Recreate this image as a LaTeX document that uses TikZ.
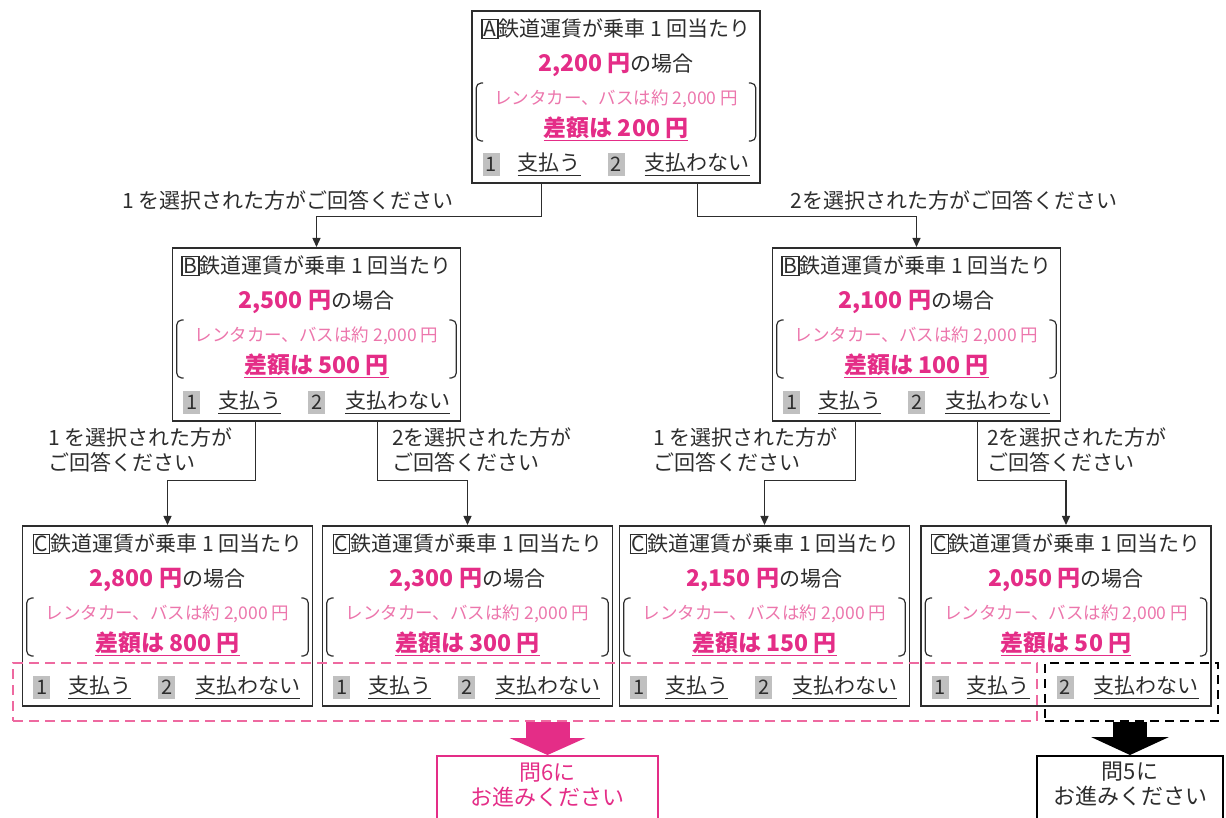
\documentclass[tikz,border=0pt]{standalone}
\usepackage{fontspec}
\setmainfont{Noto Sans CJK JP}
\usetikzlibrary{arrows.meta}

\definecolor{fpink}{RGB}{228,45,135}
\definecolor{notepink}{RGB}{236,118,172}
\definecolor{dashpink}{RGB}{238,105,160}
\definecolor{txtgray}{RGB}{45,45,45}
\definecolor{numgray}{RGB}{192,192,192}

\setlength{\fboxsep}{1pt}
\setlength{\fboxrule}{1.2pt}

\newcommand{\uln}[1]{\setbox0=\hbox{#1}\leavevmode\rlap{\rule[-5pt]{\wd0}{1.3pt}}\box0}

\tikzset{
    fare/.style={draw=txtgray, line width=1.6pt, inner sep=0pt},
    headtxt/.style={text=txtgray, font=\fontsize{21}{24}\selectfont, inner sep=0pt},
    pricetxt/.style={text=txtgray, font=\fontsize{21}{25}\selectfont, inner sep=0pt},
    notetxt/.style={text=notepink, font=\fontsize{17.5}{20}\selectfont, inner sep=0pt},
    difftxt/.style={text=fpink, font=\fontsize{23}{26}\selectfont\bfseries, inner sep=0pt},
    opttxt/.style={text=txtgray, font=\fontsize{21}{25}\selectfont, inner sep=0pt},
    numbox/.style={fill=numgray, text=txtgray, font=\fontsize{20}{24}\selectfont, minimum width=17pt, minimum height=23pt, inner sep=0pt},
    bracket/.style={draw=txtgray, line width=1.2pt, rounded corners=5pt},
    link/.style={draw=txtgray, line width=1.4pt, -{Triangle[length=9pt, width=8pt]}},
    asklabel/.style={text=txtgray, font=\fontsize{21}{25}\selectfont, inner sep=0pt, align=left},
    pinksel/.style={draw=dashpink, line width=2pt, dash pattern=on 10pt off 6pt, inner sep=0pt},
    blacksel/.style={draw=black, line width=2.4pt, dash pattern=on 9pt off 6pt, inner sep=0pt},
    gopink/.style={draw=fpink, line width=1.8pt, inner sep=0pt},
    goblack/.style={draw=black, line width=1.8pt, inner sep=0pt},
    gotxt/.style={text=txtgray, font=\fontsize{22}{25}\selectfont, inner sep=0pt, align=center}
}

\newcommand{\farebox}[8]{%
    \node[fare, minimum width=#3, minimum height=#4, anchor=north] (#1) at (#2) {};
    \node[headtxt] (#1-head) at ([yshift=-19pt]#1.north) {\fbox{#5}鉄道運賃が乗車 1 回当たり};
    \node[pricetxt] (#1-price) at ([yshift=-55pt]#1.north) {{\color{fpink}\bfseries\fontsize{23}{26}\selectfont #6 円}の場合};
    \node[notetxt] (#1-note) at ([yshift=-89pt]#1.north) {レンタカー、バスは約 2,000 円};
    \node[difftxt] (#1-diff) at ([yshift=-119pt]#1.north) {\uln{差額は #7 円}};
    \draw[bracket] ([shift={(12,-73)}]#1.north west) -- ([shift={(5,-73)}]#1.north west)
        -- ([shift={(5,-131)}]#1.north west) -- ([shift={(12,-131)}]#1.north west);
    \draw[bracket] ([shift={(-12,-73)}]#1.north east) -- ([shift={(-5,-73)}]#1.north east)
        -- ([shift={(-5,-131)}]#1.north east) -- ([shift={(-12,-131)}]#1.north east);
    \node[numbox] (#1-n1) at ([shift={(20,19)}]#1.south west) {1};
    \node[opttxt] (#1-pay) at ([shift={(78,19)}]#1.south west) {\uln{支払う}};
    \node[numbox] (#1-n2) at ([shift={(145,19)}]#1.south west) {2};
    \node[opttxt] (#1-nopay) at ([shift={(#8,19)}]#1.south west) {\uln{支払わない}};
}

\begin{document}
\begin{tikzpicture}[x=1pt, y=1pt]
    \clip (0,0) rectangle (1226,817);

    \farebox{A}{616,807}{288pt}{172pt}{A}{2,200}{200}{226}
    \farebox{B1}{316.5,570}{288pt}{173pt}{B}{2,500}{500}{226}
    \farebox{B2}{916.5,570}{288pt}{173pt}{B}{2,100}{100}{226}
    \farebox{C1}{167.5,292}{290pt}{180pt}{C}{2,800}{800}{226}
    \farebox{C2}{467.5,292}{290pt}{180pt}{C}{2,300}{300}{226}
    \farebox{C3}{764.5,292}{290pt}{180pt}{C}{2,150}{150}{226}
    \farebox{C4}{1066,292}{290pt}{180pt}{C}{2,050}{50}{226}

    \draw[link] ([xshift=-8pt]A.south -| A-pay) -- ++(0,-33) -| (B1.north);
    \draw[link] (A.south -| A-nopay) -- ++(0,-33) -| (B2.north);
    \draw[link] ([xshift=6pt]B1.south -| B1-pay) -- ++(0,-59) -| (C1.north);
    \draw[link] ([xshift=-20pt]B1.south -| B1-nopay) -- ++(0,-59) -| (C2.north);
    \draw[link] ([xshift=6pt]B2.south -| B2-pay) -- ++(0,-59) -| (C3.north);
    \draw[link] ([xshift=-20pt]B2.south -| B2-nopay) -- ++(0,-59) -| (C4.north);

    \node[asklabel] (ask1) at (288,617) {1 を選択された方がご回答ください};
    \node[asklabel] (ask2) at (954,617) {2を選択された方がご回答ください};
    \node[asklabel, anchor=west] (ask11) at (48,367.5) {1 を選択された方が\\ご回答ください};
    \node[asklabel, anchor=west] (ask12) at (392,367.5) {2を選択された方が\\ご回答ください};
    \node[asklabel, anchor=west] (ask21) at (653,367.5) {1 を選択された方が\\ご回答ください};
    \node[asklabel, anchor=west] (ask22) at (987,367.5) {2を選択された方が\\ご回答ください};

    \node[pinksel, minimum width=1024pt, minimum height=58pt] (sel6) at (525,125) {};
    \node[blacksel, minimum width=173pt, minimum height=58pt] (sel5) at (1131.5,125) {};

    \node[gopink, minimum width=221pt, minimum height=80pt, anchor=north] (go6) at (547.5,62) {};
    \node[gotxt, text=fpink] (go6-txt) at (547.5,31.5) {問6に\\お進みください};
    \node[goblack, minimum width=186pt, minimum height=80pt, anchor=north] (go5) at (1130,62) {};
    \node[gotxt] (go5-txt) at (1130,32.5) {問5に\\お進みください};

    \draw[line width=44pt, fpink, -{Triangle[length=17pt, width=76pt, line width=0pt]}] (sel6.south -| go6.north) -- (go6.north);
    \draw[line width=34pt, black, -{Triangle[length=18pt, width=78pt, line width=0pt]}] (sel5.south -| go5.north) -- (go5.north);
\end{tikzpicture}
\end{document}
